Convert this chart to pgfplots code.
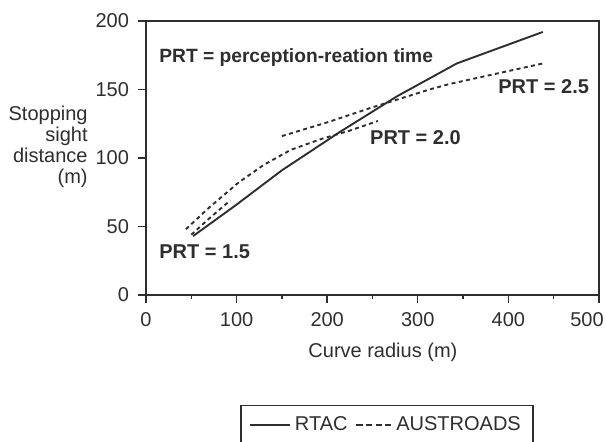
\documentclass[border=0pt]{standalone}
\usepackage{fontspec}
\setmainfont{Liberation Sans}
\usepackage{pgfplots}
\pgfplotsset{compat=1.18}
\definecolor{ink}{HTML}{2E2E2E}
\begin{document}
\begin{tikzpicture}
\path[use as bounding box] (-73pt,-73.5pt) rectangle (230pt,147.5pt);
\begin{axis}[
  at={(0,0)}, anchor=south west,
  scale only axis, width=226.5pt, height=137pt,
  xmin=0, xmax=500, ymin=0, ymax=200,
  xtick={0,100,...,400}, ytick={0,50,...,200},
  minor xtick={50,150,...,450},
  extra x ticks={500}, extra x tick labels={500},
  extra x tick style={xticklabel style={xshift=-6pt}},
  xtick pos=bottom, ytick pos=left,
  tick align=outside,
  major tick length=4pt, minor tick length=2pt,
  axis line style={line width=0.8pt, ink},
  every tick/.style={line width=0.7pt, ink},
  /pgf/number format/assume math mode=true,
  tick label style={font=\fontsize{10}{12}\selectfont, text=ink},
  xticklabel style={yshift=-1pt},
  yticklabel style={xshift=-1pt},
  xlabel={Curve radius (m)},
  every axis x label/.style={at={(axis description cs:0.523,-0.208)}, anchor=center, font=\fontsize{10}{12}\selectfont, text=ink},
  ylabel={Stopping\\sight\\distance\\(m)},
  every axis y label/.style={at={(axis description cs:-0.128,0.54)}, anchor=east, align=right, inner sep=0pt, font=\fontsize{10}{10.5}\selectfont, text=ink},
  legend columns=2,
  legend style={at={(axis description cs:0.532,-0.401)}, anchor=north, draw=ink, line width=0.7pt, font=\fontsize{10}{12}\selectfont, text=ink, inner xsep=4pt, inner ysep=3.5pt, /tikz/every even column/.append style={column sep=2pt}},
]
\addlegendimage{legend image code/.code={\draw[ink, line width=0.9pt] (0pt,0pt) -- (20pt,0pt);}}
\addlegendentry{RTAC}
\addlegendimage{legend image code/.code={\draw[ink, line width=0.9pt, dash pattern=on 3.2pt off 1.6pt] (0pt,0pt) -- (17.5pt,0pt);}}
\addlegendentry{AUSTROADS}

% RTAC
\addplot[ink, line width=0.95pt, forget plot] coordinates {
(52,43) (100,66) (150,91) (214,119) (277,145) (343,169) (438,192)};
% AUSTROADS
\addplot[ink, line width=0.95pt, dash pattern=on 2pt off 1.7pt, forget plot] coordinates {
(44,48) (70,64) (102,82) (130,95) (160,106) (194,114) (225,120) (256,127)};
\addplot[ink, line width=0.95pt, dash pattern=on 2pt off 1.7pt, forget plot] coordinates {
(50,44) (70,56) (93,69)};
\addplot[ink, line width=0.95pt, dash pattern=on 2pt off 1.7pt, forget plot] coordinates {
(150,116) (200,126) (250,137) (313,150) (335,154) (438,169)};

\node[anchor=base west, inner sep=0pt, font=\bfseries\fontsize{9.6}{12}\selectfont, text=ink] at (axis cs:14.3,170) {PRT = perception-reation time};
\node[anchor=base west, inner sep=0pt, font=\bfseries\fontsize{10}{12}\selectfont, text=ink] at (axis cs:14.3,27) {PRT = 1.5};
\node[anchor=base west, inner sep=0pt, font=\bfseries\fontsize{10}{12}\selectfont, text=ink] at (axis cs:247,109.5) {PRT = 2.0};
\node[anchor=base west, inner sep=0pt, font=\bfseries\fontsize{10}{12}\selectfont, text=ink] at (axis cs:388.5,147.4) {PRT = 2.5};
\end{axis}
\end{tikzpicture}
\end{document}
